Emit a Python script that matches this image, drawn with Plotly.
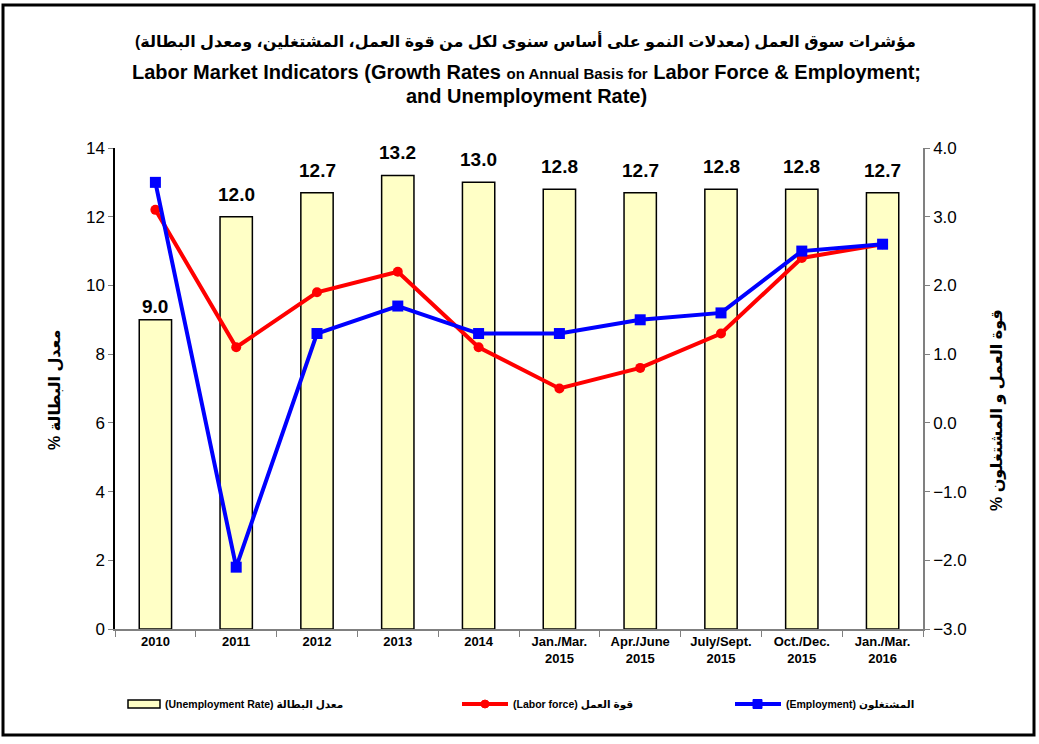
import plotly.graph_objects as go

categories = ["2010", "2011", "2012", "2013", "2014",
              "Jan./Mar.<br>2015", "Apr./June<br>2015", "July/Sept.<br>2015",
              "Oct./Dec.<br>2015", "Jan./Mar.<br>2016"]
unemployment = [9.0, 12.0, 12.7, 13.2, 13.0, 12.8, 12.7, 12.8, 12.8, 12.7]
labor_force = [3.1, 1.1, 1.9, 2.2, 1.1, 0.5, 0.8, 1.3, 2.4, 2.6]
employment = [3.5, -2.1, 1.3, 1.7, 1.3, 1.3, 1.5, 1.6, 2.5, 2.6]

left_ticks = [0, 2, 4, 6, 8, 10, 12, 14]
right_ticks = [-3, -2, -1, 0, 1, 2, 3, 4]

FONT = "Liberation Sans Narrow, Arial Narrow, Liberation Sans, Arial, DejaVu Sans, sans-serif"
FONT_R = "Liberation Sans, Arial, DejaVu Sans, sans-serif"
RLM = "\u200f"

fig = go.Figure()
fig.add_trace(go.Bar(
    x=categories, y=unemployment, width=0.4,
    marker=dict(color="#FFFFC6", line=dict(color="black", width=1.5)),
    showlegend=False, yaxis="y"))
fig.add_trace(go.Scatter(
    x=categories, y=labor_force, mode="lines+markers",
    line=dict(color="#FF0000", width=4),
    marker=dict(symbol="circle", size=10, color="#FF0000"),
    showlegend=False, yaxis="y2", cliponaxis=False))
fig.add_trace(go.Scatter(
    x=categories, y=employment, mode="lines+markers",
    line=dict(color="#0000FF", width=4),
    marker=dict(symbol="square", size=11, color="#0000FF"),
    showlegend=False, yaxis="y2", cliponaxis=False))

# Bar value labels (x = category index on the category axis)
for i, v in enumerate(unemployment):
    fig.add_annotation(x=i, y=v, xref="x", yref="y", text=f"{v:.1f}",
                       showarrow=False, yanchor="bottom", xanchor="center",
                       yshift=1 if i == 0 else 10,
                       font=dict(family=FONT_R, size=19, color="black", weight="bold"))

fig.update_layout(
    width=1039, height=744,
    margin=dict(l=115, r=116, t=148, b=115),
    paper_bgcolor="white", plot_bgcolor="white",
    bargap=0.6,
    xaxis=dict(
        type="category", categoryorder="array", categoryarray=categories,
        range=[-0.5, len(categories) - 0.5],
        showline=True, linecolor="#808080", linewidth=1.5,
        ticks="outside", tickson="boundaries", ticklen=6, tickcolor="#808080",
        tickfont=dict(family=FONT_R, size=13, color="black", weight="bold"),
        showgrid=False, zeroline=False),
    yaxis=dict(
        range=[0, 14], tickvals=left_ticks, showline=True, linecolor="black",
        linewidth=1.5, ticks="outside", ticklen=5, tickcolor="#808080",
        tickfont=dict(family=FONT_R, size=17, color="black"),
        showgrid=False, zeroline=False),
    yaxis2=dict(
        range=[-3, 4], tickvals=right_ticks, tickformat=".1f",
        overlaying="y", side="right", showline=True, linecolor="#808080",
        linewidth=1.5, ticks="outside", ticklen=5, tickcolor="#808080",
        tickfont=dict(family=FONT_R, size=17, color="black"),
        showgrid=False, zeroline=False),
)

def px_x(px):
    return (px - 115) / 808

def px_y(py):
    return (629 - py) / 481

# Outer frame
fig.add_shape(type="rect", xref="paper", yref="paper",
              x0=px_x(3), x1=px_x(1034), y0=px_y(735), y1=px_y(5),
              line=dict(color="black", width=3), fillcolor="rgba(0,0,0,0)")

def note(x, y, text, size, angle=0, xanchor="center"):
    fig.add_annotation(xref="paper", yref="paper", x=px_x(x), y=px_y(y),
                       xanchor=xanchor, yanchor="middle", text=text,
                       textangle=angle, showarrow=False,
                       font=dict(family=FONT, size=size, color="black", weight="bold"))

# Titles
note(525, 41, "مؤشرات سوق العمل (معدلات النمو على أساس سنوى لكل من قوة العمل، المشتغلين، ومعدل البطالة)" + RLM, 16)
note(526, 72, "Labor Market Indicators (Growth Rates <span style='font-size:15px'>on Annual Basis for</span> Labor Force & Employment;", 20)
note(526, 96, "and Unemployment Rate)", 20)

# Axis titles
note(55, 390, "معدل البطالة %" + RLM, 16, angle=-90)
note(997, 410, "قوة العمل و المشتغلون %" + RLM, 16, angle=-90)

# Legend (manual)
fig.add_shape(type="rect", xref="paper", yref="paper",
              x0=px_x(128), x1=px_x(160), y0=px_y(708), y1=px_y(700),
              line=dict(color="black", width=1.5), fillcolor="#FFFFC6")
note(163, 704, "(Unemployment Rate) معدل البطالة", 10.5, xanchor="left")
fig.add_shape(type="line", xref="paper", yref="paper",
              x0=px_x(462), x1=px_x(508), y0=px_y(704), y1=px_y(704),
              line=dict(color="#FF0000", width=4))
fig.add_shape(type="circle", xref="paper", yref="paper",
              x0=px_x(481), x1=px_x(489), y0=px_y(708), y1=px_y(700),
              line=dict(color="#FF0000", width=1), fillcolor="#FF0000")
note(511, 704, "(Labor force) قوة العمل", 10.5, xanchor="left")
fig.add_shape(type="line", xref="paper", yref="paper",
              x0=px_x(735), x1=px_x(781), y0=px_y(704), y1=px_y(704),
              line=dict(color="#0000FF", width=4))
fig.add_shape(type="rect", xref="paper", yref="paper",
              x0=px_x(753), x1=px_x(762), y0=px_y(708.5), y1=px_y(699.5),
              line=dict(color="#0000FF", width=1), fillcolor="#0000FF")
note(784, 704, "(Employment) المشتغلون", 10.5, xanchor="left")

fig.write_html("out.html", config={"displayModeBar": False},
               post_script="document.body.style.margin='0';")
